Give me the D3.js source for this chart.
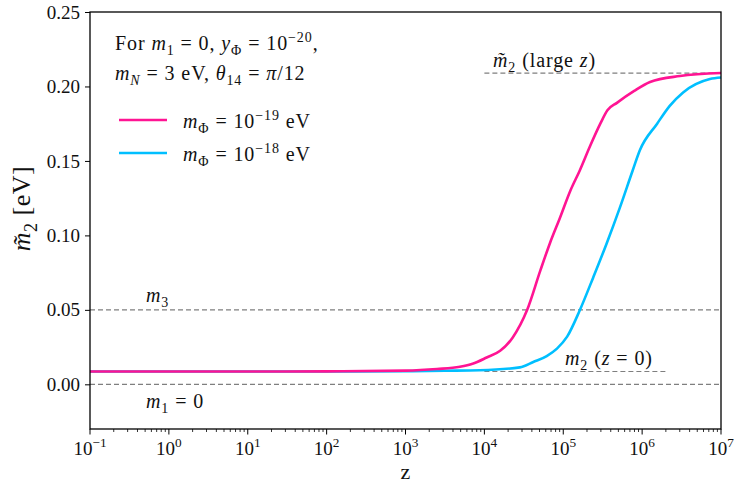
<!DOCTYPE html>
<html>
<head>
<meta charset="utf-8">
<script src="https://cdn.jsdelivr.net/npm/d3@7"></script>
<style>
  body { margin: 0; background: #fff; }
  text { font-family: "Liberation Serif", "DejaVu Serif", serif; fill: #111; }
</style>
</head>
<body>
<div id="chart-container"></div>
<script>
   const margin = { top: 12, right: 13, bottom: 55, left: 90 };
   const width = 734 - margin.left - margin.right;
   const height = 484 - margin.top - margin.bottom;

   // m_Phi = 1e-19 eV
   const zPink = [0.1, 1, 10, 100, 1000, 2512, 4898, 7080, 10700, 15850, 22900, 34700, 51300, 67600, 91200,
                  123000, 162000, 219000, 295000, 363000, 479000, 794000, 1.26e6, 3.02e6, 1e7];
   const mPink = [0.0086, 0.0086, 0.0086, 0.0087, 0.0092, 0.0103, 0.0118, 0.0138, 0.018, 0.0225, 0.0315, 0.0497,
                  0.0765, 0.0946, 0.112, 0.130, 0.1436, 0.160, 0.175, 0.184, 0.189, 0.197, 0.203, 0.207, 0.209];
   // m_Phi = 1e-18 eV
   const zCyan = [0.1, 1, 10, 100, 1000, 3160, 8710, 28200, 41700, 61700, 83200, 112000, 162000, 240000, 355000,
                  525000, 759000, 933000, 1.55e6, 2.24e6, 3.31e6, 7.24e6, 1e7];
   const mCyan = [0.0086, 0.0086, 0.0086, 0.0086, 0.0088, 0.0091, 0.0094, 0.0114, 0.015, 0.019, 0.024, 0.032,
                  0.0497, 0.0718, 0.0946, 0.119, 0.1436, 0.157, 0.175, 0.187, 0.196, 0.205, 0.206];

   const yTicks = [0.00, 0.05, 0.10, 0.15, 0.20, 0.25];
   const xExps = [-1, 0, 1, 2, 3, 4, 5, 6, 7];

   // reference mass levels
   const m1 = 0, m2 = 0.0086, m3 = 0.05, m2Large = 0.209;

   const x = d3.scaleLog().domain([0.1, 1e7]).range([0, width]);
   const y = d3.scaleLinear().domain([-0.03, 0.25]).range([height, 0]);

   const svg = d3.select("#chart-container")
       .append("svg")
       .attr("width", width + margin.left + margin.right)
       .attr("height", height + margin.top + margin.bottom)
       .append("g")
       .attr("transform", `translate(${margin.left},${margin.top})`);

   // rich text helper: parts = [text, style] with style among r, i, sub, isub, sup
   function rich(g, px, py, size, parts, anchor, ls) {
       const t = g.append("text").attr("x", px).attr("y", py)
           .attr("font-size", size).attr("text-anchor", anchor || "start")
           .attr("letter-spacing", ls || 0);
       let shift = 0;
       parts.forEach(([s, st]) => {
           let dy = 0, fs = size, it = false;
           if (st === "i") it = true;
           if (st === "sub" || st === "isub") { dy = size * 0.25; fs = size * 0.7; it = st === "isub"; }
           if (st === "sup") { dy = -size * 0.42; fs = size * 0.7; }
           t.append("tspan").attr("dy", dy - shift).attr("font-size", fs)
               .attr("font-style", it ? "italic" : "normal").text(s);
           shift = dy;
       });
       return t;
   }

   // dashed reference lines
   const dashed = [
       { v: m3, a: 0.1, b: 1e7 },
       { v: m1, a: 0.1, b: 1e7 },
       { v: m2, a: 1e4, b: 2.07e6 },
       { v: m2Large, a: 1e4, b: 1e7 }
   ];
   svg.selectAll(".ref").data(dashed).enter().append("line")
       .attr("x1", d => x(d.a)).attr("x2", d => x(d.b))
       .attr("y1", d => y(d.v)).attr("y2", d => y(d.v))
       .attr("stroke", "#7f7f7f").attr("stroke-width", 1.2).attr("stroke-dasharray", "5,3");

   const line = d3.line()
       .x(d => x(d[0]))
       .y(d => y(d[1]))
       .curve(d3.curveMonotoneX);

   svg.append("path").datum(d3.zip(zCyan, mCyan))
       .attr("fill", "none").attr("stroke", "#00bfff").attr("stroke-width", 2.6).attr("d", line);
   svg.append("path").datum(d3.zip(zPink, mPink))
       .attr("fill", "none").attr("stroke", "#ff1493").attr("stroke-width", 2.6).attr("d", line);

   // frame
   svg.append("rect").attr("width", width).attr("height", height)
       .attr("fill", "none").attr("stroke", "#000").attr("stroke-width", 1.3);

   // y axis
   const yAxis = svg.append("g")
       .call(d3.axisLeft(y).tickValues(yTicks).tickFormat(d3.format(".2f")).tickSize(5));
   yAxis.select(".domain").remove();
   yAxis.selectAll("text").attr("font-size", 19).attr("dx", "-2")
       .style("font-family", "'Liberation Serif', serif");

   // x axis (log, with minor ticks)
   const minors = [];
   for (let e = -1; e < 7; e++) for (let k = 2; k <= 9; k++) minors.push(k * Math.pow(10, e));
   const xg = svg.append("g").attr("transform", `translate(0,${height})`);
   xg.selectAll(".minor").data(minors).enter().append("line")
       .attr("x1", d => x(d)).attr("x2", d => x(d)).attr("y1", 0).attr("y2", 3)
       .attr("stroke", "#000").attr("stroke-width", 0.8);
   xg.selectAll(".major").data(xExps).enter().append("line")
       .attr("x1", d => x(Math.pow(10, d))).attr("x2", d => x(Math.pow(10, d)))
       .attr("y1", 0).attr("y2", 5.5).attr("stroke", "#000").attr("stroke-width", 1);
   xExps.forEach(e => {
       rich(xg, x(Math.pow(10, e)), 26, 19, [["10", "r"], [e < 0 ? "\u2212" + (-e) : String(e), "sup"]], "middle");
   });

   // axis labels
   rich(svg, width / 2, height + 50, 22, [["z", "r"]], "middle");
   const yl = svg.append("g").attr("transform", `translate(-60,${height / 2 - 12}) rotate(-90)`);
   rich(yl, 0, 0, 26, [["m\u0303", "i"], ["2", "sub"], [" [eV]", "r"]], "middle", 0.5);

   // annotation text
   const fs = 20, ls = 0.9;
   rich(svg, 25, 38, fs, [["For ", "r"], ["m", "i"], ["1", "sub"], [" = 0, ", "r"], ["y", "i"], ["\u03A6", "sub"],
       [" = 10", "r"], ["\u221220", "sup"], [",", "r"]], "start", ls);
   rich(svg, 25, 68, fs, [["m", "i"], ["N", "isub"], [" = 3 eV, ", "r"], ["\u03B8", "i"], ["14", "sub"],
       [" = ", "r"], ["\u03C0", "i"], ["/12", "r"]], "start", ls);

   // legend
   const legend = [
       { c: "#ff1493", e: "\u221219", yy: 108 },
       { c: "#00bfff", e: "\u221218", yy: 141 }
   ];
   legend.forEach(d => {
       svg.append("line").attr("x1", 29).attr("x2", 77).attr("y1", d.yy).attr("y2", d.yy)
           .attr("stroke", d.c).attr("stroke-width", 2.6);
       rich(svg, 93, d.yy + 8, fs, [["m", "i"], ["\u03A6", "sub"], [" = 10", "r"], [d.e, "sup"], [" eV", "r"]], "start", ls);
   });

   rich(svg, 403, 55, fs, [["m\u0303", "i"], ["2", "sub"], [" (large ", "r"], ["z", "i"], [")", "r"]], "start", ls);
   rich(svg, 56, 290, fs, [["m", "i"], ["3", "sub"]], "start", ls);
   rich(svg, 56, 396, fs, [["m", "i"], ["1", "sub"], [" = 0", "r"]], "start", ls);
   rich(svg, 475, 353, fs, [["m", "i"], ["2", "sub"], [" (", "r"], ["z", "i"], [" = 0)", "r"]], "start", ls);
</script>
</body>
</html>
